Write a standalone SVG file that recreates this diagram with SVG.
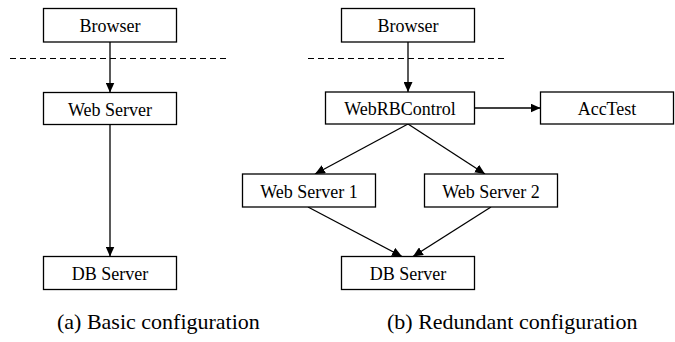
<svg xmlns="http://www.w3.org/2000/svg" width="675" height="342" viewBox="0 0 675 342">
  <defs>
    <style>
      .box rect { fill: #fff; stroke: #000; stroke-width: 1.3; }
      .box text { font-family: "Liberation Serif", "Times New Roman", serif; font-size: 18px; fill: #000; text-anchor: middle; }
      .edge { stroke: #000; stroke-width: 1.3; fill: none; marker-end: url(#arrow); }
      .sep { stroke: #000; stroke-width: 1.2; stroke-dasharray: 6 4; fill: none; }
      .caption { font-family: "Liberation Serif", "Times New Roman", serif; font-size: 22px; fill: #000; }
    </style>
    <marker id="arrow" viewBox="0 0 10 9" refX="10" refY="4.5" markerWidth="10" markerHeight="9" markerUnits="userSpaceOnUse" orient="auto">
      <path d="M0,0 L10,4.5 L0,9 Z" fill="#000"/>
    </marker>
  </defs>

  <!-- tier separators -->
  <line class="sep" x1="10" y1="58.5" x2="228" y2="58.5"/>
  <line class="sep" x1="308" y1="58.5" x2="507" y2="58.5"/>

  <!-- connectors -->
  <g id="connectors">
    <line class="edge" x1="110" y1="42" x2="110" y2="92.5"/>
    <line class="edge" x1="110" y1="124.5" x2="110" y2="256.5"/>
    <line class="edge" x1="408" y1="42" x2="408" y2="92"/>
    <line class="edge" x1="474.5" y1="108" x2="540.5" y2="108"/>
    <line class="edge" x1="408" y1="124" x2="315" y2="174"/>
    <line class="edge" x1="408" y1="124" x2="485" y2="174"/>
    <line class="edge" x1="308" y1="207" x2="402" y2="256.5"/>
    <line class="edge" x1="491" y1="207" x2="413" y2="256.5"/>
  </g>

  <!-- (a) basic configuration -->
  <g id="a-browser" class="box">
    <rect x="43.5" y="8.5" width="133" height="33.5"/>
    <text x="110" y="32">Browser</text>
  </g>
  <g id="a-webserver" class="box">
    <rect x="43.5" y="92.5" width="133" height="32"/>
    <text x="110" y="115.5">Web Server</text>
  </g>
  <g id="a-dbserver" class="box">
    <rect x="43.5" y="256.5" width="133" height="33"/>
    <text x="110" y="280">DB Server</text>
  </g>

  <!-- (b) redundant configuration -->
  <g id="b-browser" class="box">
    <rect x="341.5" y="8.5" width="133" height="33.5"/>
    <text x="408" y="32">Browser</text>
  </g>
  <g id="b-webrbcontrol" class="box">
    <rect x="325.5" y="92" width="149" height="32"/>
    <text x="400" y="115">WebRBControl</text>
  </g>
  <g id="b-acctest" class="box">
    <rect x="540.5" y="92" width="133" height="32"/>
    <text x="607" y="115">AccTest</text>
  </g>
  <g id="b-webserver1" class="box">
    <rect x="242.5" y="174" width="133" height="33"/>
    <text x="309" y="197.5">Web Server 1</text>
  </g>
  <g id="b-webserver2" class="box">
    <rect x="424.5" y="174" width="133" height="33"/>
    <text x="491" y="197.5">Web Server 2</text>
  </g>
  <g id="b-dbserver" class="box">
    <rect x="341.5" y="256.5" width="133" height="33"/>
    <text x="408" y="280">DB Server</text>
  </g>

  <!-- captions -->
  <text class="caption" x="57" y="329">(a) Basic configuration</text>
  <text class="caption" x="387" y="329">(b) Redundant configuration</text>
</svg>
